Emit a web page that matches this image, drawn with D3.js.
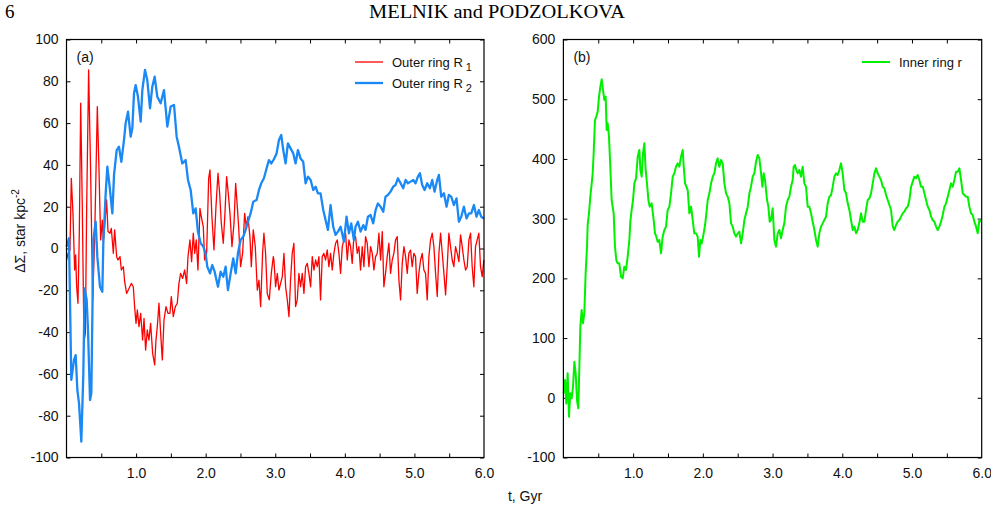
<!DOCTYPE html>
<html lang="en">
<head>
<meta charset="UTF-8">
<title>Melnik and Podzolkova - ring density</title>
<style>
    body { margin: 0; background: #fff; }
    svg { display: block; font-family: "Liberation Sans", Arial, Helvetica, sans-serif; }
    .tick text { fill: #111; font-size: 14px; }
    .tick line { stroke: #000; stroke-width: 1; }
    .frame { fill: none; stroke: #000; stroke-width: 1.2; }
    .series { fill: none; stroke-linejoin: round; }
</style>
</head>
<body>
<div id="chart"></div>
<script src="https://d3js.org/d3.v7.min.js"></script>
<script>
// ---- data (t in Gyr, delta Sigma in star kpc^-2) ----
const outerR1 = [
  [0.002,-5.5],[0.022,-2.3],[0.050,-0.7],[0.069,33.6],[0.093,16.8],[0.117,-10.3],[0.132,-3.1],[0.146,-18.3],
  [0.165,-26.2],[0.184,7.3],[0.204,69.5],[0.227,20.0],[0.251,-44.6],[0.271,-40.6],[0.290,20.0],[0.318,85.4],
  [0.347,36.0],[0.376,-24.6],[0.405,5.7],[0.443,67.9],[0.467,37.6],[0.491,4.1],[0.515,13.6],[0.529,3.3],
  [0.548,10.4],[0.577,23.2],[0.596,8.1],[0.625,7.3],[0.644,9.6],[0.673,-2.3],[0.692,8.9],[0.721,-3.9],
  [0.740,-5.5],[0.769,-3.9],[0.788,-10.3],[0.817,-8.7],[0.836,-15.9],[0.864,-21.5],[0.898,-19.1],[0.932,-16.7],
  [0.960,-18.3],[0.979,-27.8],[0.999,-35.8],[1.018,-29.4],[1.042,-37.4],[1.066,-31.0],[1.094,-43.8],[1.114,-33.4],
  [1.137,-48.6],[1.161,-39.0],[1.185,-43.8],[1.209,-35.8],[1.238,-50.2],[1.267,-55.7],[1.286,-43.8],[1.305,-37.4],
  [1.329,-26.2],[1.353,-40.6],[1.377,-53.3],[1.401,-34.2],[1.430,-27.8],[1.458,-31.0],[1.487,-31.0],[1.506,-23.0],
  [1.535,-32.6],[1.564,-27.8],[1.592,-26.2],[1.616,-16.7],[1.640,-11.9],[1.669,-14.3],[1.698,-10.3],[1.726,-16.7],
  [1.746,-3.9],[1.774,4.1],[1.798,-6.3],[1.822,7.3],[1.842,-2.3],[1.865,4.1],[1.889,-10.3],[1.918,19.2],
  [1.937,15.2],[1.966,10.4],[1.985,-5.5],[2.014,-2.3],[2.043,33.6],[2.062,37.6],[2.090,15.2],[2.119,-0.7],
  [2.148,20.0],[2.177,36.0],[2.201,26.4],[2.225,12.0],[2.253,2.5],[2.277,16.8],[2.301,34.4],[2.325,26.4],
  [2.349,16.8],[2.378,0.9],[2.407,12.0],[2.431,31.2],[2.455,20.0],[2.474,10.4],[2.502,-8.7],[2.531,-2.3],
  [2.560,16.8],[2.584,10.4],[2.608,15.2],[2.636,5.7],[2.656,-8.7],[2.684,8.9],[2.713,0.9],[2.742,-19.9],
  [2.766,-15.1],[2.790,-27.8],[2.818,-2.3],[2.837,7.3],[2.861,-2.3],[2.885,-21.5],[2.914,-24.6],[2.943,-11.9],
  [2.972,-3.9],[2.981,-5.5],[3.005,-18.3],[3.029,-11.9],[3.053,-19.9],[3.077,-16.7],[3.101,-13.5],[3.125,-2.3],
  [3.149,-18.3],[3.173,-24.6],[3.197,-32.6],[3.220,-15.1],[3.244,-2.3],[3.268,2.5],[3.292,-27.8],[3.316,-24.6],
  [3.340,-11.9],[3.364,-18.3],[3.388,-11.9],[3.412,-21.5],[3.436,-8.7],[3.460,-7.1],[3.484,-11.9],[3.508,-18.3],
  [3.532,-3.9],[3.556,-10.3],[3.580,-5.5],[3.604,-8.7],[3.628,-3.9],[3.651,-24.6],[3.675,-3.9],[3.699,-2.3],
  [3.723,-5.5],[3.747,-0.7],[3.771,-8.7],[3.795,-2.3],[3.819,-10.3],[3.843,-2.3],[3.867,2.5],[3.891,4.1],
  [3.915,-2.3],[3.939,-11.9],[3.963,0.9],[3.987,4.1],[4.011,7.3],[4.035,-5.5],[4.059,4.1],[4.082,0.9],
  [4.106,-7.1],[4.130,5.7],[4.154,5.7],[4.178,-2.3],[4.202,0.9],[4.226,-10.3],[4.250,0.9],[4.274,-8.7],
  [4.298,5.7],[4.322,2.5],[4.346,-8.7],[4.370,0.9],[4.394,-2.3],[4.418,-10.3],[4.442,-3.9],[4.466,-2.3],
  [4.490,7.3],[4.514,-5.5],[4.538,8.1],[4.561,-18.3],[4.585,-11.9],[4.609,-3.9],[4.633,2.5],[4.657,-11.9],
  [4.681,-5.5],[4.705,-2.3],[4.729,4.1],[4.753,5.7],[4.777,-15.1],[4.801,-24.6],[4.825,-7.1],[4.849,0.9],
  [4.873,-3.9],[4.897,-11.9],[4.920,-2.3],[4.944,-0.7],[4.968,-8.7],[4.992,-2.3],[5.016,-3.9],[5.040,-21.5],
  [5.064,-11.9],[5.088,-5.5],[5.112,-2.3],[5.136,-10.3],[5.160,-11.9],[5.184,-24.6],[5.208,-3.9],[5.232,4.1],
  [5.256,7.3],[5.280,0.9],[5.304,-11.9],[5.328,-23.0],[5.352,-2.3],[5.376,7.3],[5.400,-2.3],[5.424,-11.9],
  [5.448,-22.2],[5.471,-8.7],[5.495,7.3],[5.519,0.9],[5.543,-5.5],[5.567,-8.7],[5.591,0.9],[5.615,-2.3],
  [5.639,-6.3],[5.663,6.5],[5.687,0.9],[5.711,-5.5],[5.735,-10.3],[5.759,-8.7],[5.783,4.1],[5.807,7.3],
  [5.830,-8.7],[5.854,-18.3],[5.878,0.9],[5.902,4.1],[5.926,7.3],[5.950,-8.7],[5.974,-13.5],[5.998,-5.5]
];

const outerR2 = [
  [0.002,0.9],[0.036,4.9],[0.069,-62.9],[0.108,-53.3],[0.132,-51.0],[0.156,-67.7],[0.180,-74.1],[0.213,-92.4],
  [0.242,-59.7],[0.261,-19.1],[0.290,-24.6],[0.309,-39.0],[0.338,-72.5],[0.357,-69.3],[0.386,4.1],[0.419,12.8],
  [0.443,-3.9],[0.481,-18.3],[0.515,-20.7],[0.529,2.5],[0.563,26.4],[0.587,39.2],[0.620,29.6],[0.659,16.8],
  [0.683,35.2],[0.721,47.1],[0.754,48.7],[0.788,41.5],[0.826,51.9],[0.850,59.9],[0.884,65.5],[0.922,53.5],
  [0.946,57.5],[0.970,74.2],[0.994,78.2],[1.027,72.6],[1.066,60.7],[1.090,75.8],[1.128,85.4],[1.161,80.6],
  [1.200,67.1],[1.233,77.4],[1.267,82.2],[1.305,72.6],[1.353,69.5],[1.401,75.8],[1.449,58.3],[1.497,67.9],
  [1.545,68.7],[1.583,53.5],[1.616,48.7],[1.664,40.7],[1.712,42.3],[1.746,32.8],[1.784,28.0],[1.822,16.8],
  [1.856,19.2],[1.889,8.1],[1.928,2.5],[1.966,0.9],[1.999,-2.3],[2.023,-8.7],[2.062,-11.9],[2.095,-7.9],
  [2.129,-11.1],[2.177,-18.3],[2.215,-11.1],[2.253,-13.5],[2.287,-8.7],[2.320,-19.9],[2.359,-11.9],[2.397,-4.7],
  [2.431,-11.9],[2.464,-2.3],[2.502,4.1],[2.541,5.7],[2.574,8.9],[2.608,12.8],[2.646,16.8],[2.684,22.4],
  [2.732,23.2],[2.766,28.0],[2.799,31.2],[2.837,33.6],[2.876,38.4],[2.909,42.3],[2.943,40.7],[2.981,42.7],
  [3.019,45.5],[3.053,51.9],[3.086,54.3],[3.115,47.1],[3.149,40.7],[3.182,50.3],[3.220,47.9],[3.259,45.5],
  [3.292,40.7],[3.326,47.1],[3.364,43.1],[3.402,41.5],[3.436,31.2],[3.470,34.4],[3.508,32.8],[3.546,28.0],
  [3.580,29.6],[3.613,26.4],[3.651,26.4],[3.690,18.4],[3.723,13.6],[3.757,8.9],[3.795,20.8],[3.833,10.4],
  [3.867,6.5],[3.901,8.1],[3.939,10.4],[3.987,3.3],[4.025,15.2],[4.059,7.3],[4.092,12.0],[4.130,4.1],
  [4.154,10.4],[4.188,12.8],[4.226,8.1],[4.265,11.2],[4.298,8.9],[4.332,15.2],[4.370,16.0],[4.408,12.0],
  [4.442,18.4],[4.475,21.6],[4.514,20.0],[4.552,17.6],[4.585,24.8],[4.619,25.6],[4.657,27.2],[4.696,29.6],
  [4.729,30.4],[4.763,33.6],[4.801,31.2],[4.839,28.8],[4.873,32.8],[4.906,31.2],[4.945,32.0],[4.983,32.8],
  [5.016,31.2],[5.050,34.4],[5.079,36.0],[5.112,30.4],[5.146,28.0],[5.184,31.2],[5.222,28.8],[5.256,32.8],
  [5.289,27.2],[5.328,32.8],[5.352,35.2],[5.385,24.8],[5.424,26.4],[5.462,20.0],[5.495,25.6],[5.529,24.8],
  [5.567,20.8],[5.605,24.0],[5.639,12.8],[5.673,15.2],[5.711,20.0],[5.749,14.4],[5.783,16.8],[5.816,16.8],
  [5.855,20.8],[5.893,15.2],[5.926,18.4],[5.960,15.2],[5.998,14.4]
];

const innerR = [
  [0.004,7.4],[0.023,29.7],[0.042,-9.4],[0.061,40.9],[0.080,-31.7],[0.099,7.4],[0.119,-1.0],[0.138,18.6],
  [0.157,60.4],[0.176,40.9],[0.195,-3.8],[0.214,-17.7],[0.229,52.1],[0.243,119.1],[0.262,147.0],[0.281,124.7],
  [0.300,141.4],[0.319,208.4],[0.339,253.1],[0.348,289.4],[0.367,308.9],[0.386,336.8],[0.406,359.1],[0.420,375.9],
  [0.434,409.4],[0.453,465.2],[0.472,470.8],[0.492,479.2],[0.511,504.3],[0.530,521.0],[0.549,533.3],[0.568,515.5],
  [0.587,498.7],[0.606,504.3],[0.621,448.5],[0.635,459.6],[0.654,437.3],[0.673,387.0],[0.692,331.2],[0.721,308.9],
  [0.740,253.1],[0.759,230.7],[0.778,225.1],[0.802,225.1],[0.826,202.8],[0.850,200.0],[0.874,219.6],[0.898,214.0],
  [0.922,236.3],[0.946,264.2],[0.960,294.9],[0.979,314.5],[0.999,331.2],[1.018,359.1],[1.042,367.5],[1.066,403.8],
  [1.090,415.0],[1.104,381.5],[1.123,370.3],[1.142,409.4],[1.161,426.1],[1.180,381.5],[1.199,359.1],[1.219,331.2],
  [1.238,320.1],[1.266,325.6],[1.295,297.7],[1.314,275.4],[1.333,269.8],[1.352,261.4],[1.376,264.2],[1.400,241.9],
  [1.424,269.8],[1.448,281.0],[1.472,286.6],[1.496,314.5],[1.520,320.1],[1.544,342.4],[1.568,370.3],[1.592,375.9],
  [1.615,387.0],[1.639,392.6],[1.663,387.0],[1.687,403.8],[1.711,415.0],[1.726,387.0],[1.745,359.1],[1.764,353.5],
  [1.783,347.9],[1.807,308.9],[1.831,320.1],[1.855,297.7],[1.878,275.4],[1.902,275.4],[1.926,269.8],[1.945,236.3],
  [1.965,264.2],[1.984,258.6],[2.012,275.4],[2.032,289.3],[2.051,308.9],[2.070,331.2],[2.094,342.4],[2.118,359.1],
  [2.142,370.3],[2.165,375.9],[2.189,392.6],[2.213,401.0],[2.237,387.0],[2.261,398.2],[2.285,392.6],[2.309,359.1],
  [2.333,342.4],[2.357,336.8],[2.381,325.6],[2.405,292.1],[2.428,286.6],[2.452,275.4],[2.476,269.8],[2.500,275.4],
  [2.524,278.2],[2.548,258.6],[2.572,275.4],[2.596,297.7],[2.620,308.9],[2.644,320.1],[2.668,342.4],[2.691,353.5],
  [2.715,370.3],[2.739,375.9],[2.763,395.4],[2.787,406.6],[2.811,401.0],[2.835,375.9],[2.854,353.5],[2.873,375.9],
  [2.892,364.7],[2.921,331.2],[2.940,320.1],[2.959,294.9],[2.978,297.7],[3.002,317.3],[3.026,264.2],[3.050,253.1],
  [3.074,275.4],[3.098,281.0],[3.121,267.0],[3.145,281.0],[3.169,292.1],[3.193,320.1],[3.217,331.2],[3.241,336.8],
  [3.265,353.5],[3.289,364.7],[3.303,387.0],[3.322,389.8],[3.341,381.5],[3.361,375.9],[3.384,381.5],[3.408,370.3],
  [3.432,387.0],[3.456,359.1],[3.480,353.5],[3.504,320.1],[3.528,320.1],[3.552,308.9],[3.576,294.9],[3.600,281.0],
  [3.624,264.2],[3.648,253.1],[3.671,275.4],[3.695,286.6],[3.719,292.1],[3.743,297.7],[3.767,303.3],[3.791,325.6],
  [3.815,336.8],[3.839,339.6],[3.863,353.5],[3.887,370.3],[3.911,375.9],[3.934,373.1],[3.958,381.5],[3.982,392.6],
  [4.006,375.9],[4.030,347.9],[4.054,342.4],[4.078,325.6],[4.102,314.5],[4.126,297.7],[4.150,281.0],[4.174,286.6],
  [4.198,275.4],[4.221,281.0],[4.245,292.1],[4.269,308.9],[4.293,294.9],[4.317,294.9],[4.341,314.5],[4.365,331.2],
  [4.389,334.0],[4.413,342.4],[4.437,359.1],[4.461,375.9],[4.484,384.3],[4.508,375.9],[4.532,370.3],[4.556,364.7],
  [4.580,353.5],[4.604,350.8],[4.628,339.6],[4.652,331.2],[4.676,322.8],[4.700,314.5],[4.724,286.6],[4.747,281.0],
  [4.771,289.3],[4.795,294.9],[4.819,297.7],[4.843,303.3],[4.867,308.9],[4.891,311.7],[4.915,317.3],[4.939,320.1],
  [4.963,331.2],[4.987,353.5],[5.011,361.9],[5.034,370.3],[5.058,367.5],[5.082,373.1],[5.106,364.7],[5.130,353.5],
  [5.154,353.5],[5.178,342.4],[5.202,331.2],[5.226,320.1],[5.250,314.5],[5.274,303.3],[5.297,297.7],[5.321,294.9],
  [5.345,286.6],[5.369,281.0],[5.393,286.6],[5.417,294.9],[5.441,306.1],[5.465,320.1],[5.489,325.6],[5.513,336.8],
  [5.537,347.9],[5.560,359.1],[5.584,353.5],[5.608,364.7],[5.632,378.7],[5.656,378.7],[5.680,384.3],[5.704,364.7],
  [5.728,342.4],[5.752,339.6],[5.776,336.8],[5.800,336.8],[5.823,320.1],[5.847,308.9],[5.871,306.1],[5.895,294.9],
  [5.919,286.6],[5.943,275.4],[5.967,297.7],[5.991,294.9]
];

const xLabelTicks = [1, 2, 3, 4, 5, 6];
const xMinorTicks = [0.5, 1, 1.5, 2, 2.5, 3, 3.5, 4, 4.5, 5, 5.5];
const yTicksA = [-100, -80, -60, -40, -20, 0, 20, 40, 60, 80, 100];
const yTicksB = [-100, 0, 100, 200, 300, 400, 500, 600];

// ---- layout ----
const W = 991, H = 513;
const svg = d3.select("#chart").append("svg")
    .attr("width", W)
    .attr("height", H);

svg.append("text")
    .attr("x", 5).attr("y", 18)
    .attr("font-family", "'Liberation Serif', 'DejaVu Serif', serif")
    .attr("font-size", 19)
    .text("6");
svg.append("text")
    .attr("x", 497).attr("y", 18)
    .attr("text-anchor", "middle")
    .attr("font-family", "'Liberation Serif', 'DejaVu Serif', serif")
    .attr("font-size", 19)
    .attr("textLength", 256)
    .attr("lengthAdjust", "spacingAndGlyphs")
    .text("MELNIK and PODZOLKOVA");

function panel(opts) {
    const x = d3.scaleLinear().domain([0, 6]).range([opts.left, opts.right]);
    const y = d3.scaleLinear().domain(opts.yDomain).range([457.5, 39.5]);
    const g = svg.append("g");

    // inward ticks on all four sides
    g.append("g").attr("transform", `translate(0,${y.range()[0]})`)
        .call(d3.axisBottom(x).tickValues(xMinorTicks).tickSize(-4).tickFormat(""));
    g.append("g").attr("transform", `translate(0,${y.range()[1]})`)
        .call(d3.axisTop(x).tickValues(xMinorTicks).tickSize(-4).tickFormat(""));
    g.append("g").attr("transform", `translate(${opts.left},0)`)
        .call(d3.axisLeft(y).tickValues(opts.yTicks).tickSize(-4).tickFormat(""));
    g.append("g").attr("transform", `translate(${opts.right},0)`)
        .call(d3.axisRight(y).tickValues(opts.yTicks).tickSize(-4).tickFormat(""));
    g.selectAll(".domain").remove();

    // labels
    g.append("g").attr("transform", `translate(0,${y.range()[0] + 6})`)
        .call(d3.axisBottom(x).tickValues(xLabelTicks).tickSize(0).tickPadding(5).tickFormat(d3.format(".1f")))
        .call(a => a.select(".domain").remove());
    g.append("g").attr("transform", `translate(${opts.left - 5},0)`)
        .call(d3.axisLeft(y).tickValues(opts.yTicks).tickSize(0).tickPadding(3).tickFormat(d => String(d)))
        .call(a => a.select(".domain").remove());
    g.selectAll(".tick text").attr("fill", "#111").attr("font-size", 14);

    // curves
    const line = d3.line().x(d => x(d[0])).y(d => y(d[1]));
    opts.series.forEach(s => {
        g.append("path").datum(s.data)
            .attr("class", "series")
            .attr("stroke", s.color)
            .attr("stroke-width", s.width)
            .attr("d", line);
    });

    g.append("rect").attr("class", "frame")
        .attr("x", opts.left).attr("y", 39.5)
        .attr("width", opts.right - opts.left).attr("height", 418);

    g.append("text")
        .attr("x", opts.left + 10).attr("y", 62)
        .attr("font-size", 14).attr("fill", "#111")
        .text(opts.tag);

    // legend
    opts.series.forEach((s, i) => {
        const ly = 62 + i * 21;
        g.append("line")
            .attr("x1", opts.legendX).attr("x2", opts.legendX + 28)
            .attr("y1", ly).attr("y2", ly)
            .attr("stroke", s.color).attr("stroke-width", s.width);
        const t = g.append("text")
            .attr("x", opts.legendX + 37).attr("y", ly + 5)
            .attr("font-size", 13).attr("fill", "#111")
            .text(s.name);
        if (s.sub) {
            t.append("tspan").attr("dx", 3).attr("dy", 4).attr("font-size", 11).text(s.sub);
        }
    });
}

panel({
    left: 66.5, right: 484, yDomain: [-100, 100], yTicks: yTicksA, tag: "(a)", legendX: 355,
    series: [
        { name: "Outer ring R", sub: "1", data: outerR1, color: "#ff0000", width: 1.3 },
        { name: "Outer ring R", sub: "2", data: outerR2, color: "#1a88f5", width: 2.3 }
    ]
});

panel({
    left: 563.4, right: 981.7, yDomain: [-100, 600], yTicks: yTicksB, tag: "(b)", legendX: 862,
    series: [
        { name: "Inner ring r", data: innerR, color: "#00f000", width: 2 }
    ]
});

// axis titles
svg.append("text")
    .attr("x", 525).attr("y", 501)
    .attr("text-anchor", "middle")
    .attr("font-size", 14).attr("fill", "#111")
    .text("t, Gyr");

const yt = svg.append("text")
    .attr("transform", "translate(25,231) rotate(-90)")
    .attr("text-anchor", "middle")
    .attr("font-size", 14).attr("fill", "#111");
yt.append("tspan").text("\u0394\u03A3, star kpc");
yt.append("tspan").attr("dy", -6).attr("font-size", 10).text("-2");
</script>
</body>
</html>
